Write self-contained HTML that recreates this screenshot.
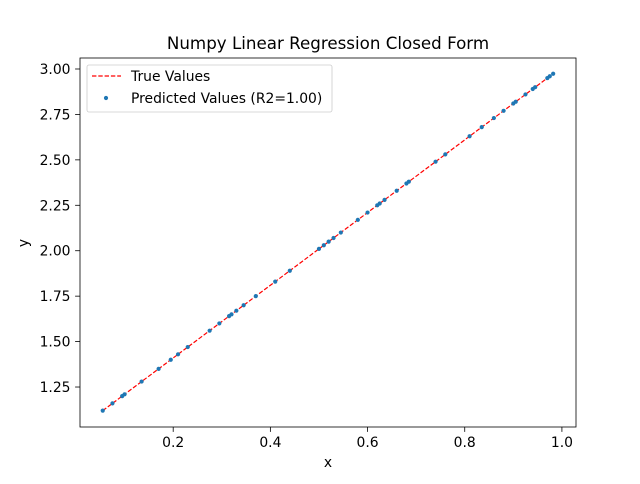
<!DOCTYPE html>
<html><head><meta charset="utf-8"><style>
body{margin:0;background:#fff;font-family:"DejaVu Sans","Liberation Sans",sans-serif;}
svg text{font-family:"DejaVu Sans","Liberation Sans",sans-serif;}
</style></head><body>
<svg id="chart" width="640" height="480">
<rect width="640" height="480" fill="#fff"/>
<g id="plot"></g>
</svg>
<script>
const xValues=[0.055,0.075,0.095,0.10,0.135,0.17,0.195,0.21,0.23,0.275,0.295,0.315,0.32,0.33,0.345,0.37,0.41,0.44,0.50,0.51,0.52,0.53,0.545,0.58,0.60,0.62,0.625,0.635,0.66,0.68,0.685,0.74,0.76,0.81,0.835,0.86,0.88,0.90,0.905,0.925,0.94,0.945,0.97,0.975,0.982];
const yValues=[1.12,1.16,1.20,1.21,1.28,1.35,1.40,1.43,1.47,1.56,1.60,1.64,1.65,1.67,1.70,1.75,1.83,1.89,2.01,2.03,2.05,2.07,2.10,2.17,2.21,2.25,2.26,2.28,2.33,2.37,2.38,2.49,2.53,2.63,2.68,2.73,2.77,2.81,2.82,2.86,2.89,2.90,2.95,2.96,2.974];
const xTicks=[0.2,0.4,0.6,0.8,1.0];
const xTickLabels=["0.2","0.4","0.6","0.8","1.0"];
const yTicks=[1.25,1.5,1.75,2.0,2.25,2.5,2.75,3.0];
const yTickLabels=["1.25","1.50","1.75","2.00","2.25","2.50","2.75","3.00"];

const L=80,R=576,T=58,B=427;
const xmin=0.0082,xmax=1.029,ymin=1.03,ymax=3.0605;
const sx=v=>L+(v-xmin)/(xmax-xmin)*(R-L);
const sy=v=>B-(v-ymin)/(ymax-ymin)*(B-T);
const NS="http://www.w3.org/2000/svg";
const g=document.getElementById('plot');
function mk(tag,at,txt){const e=document.createElementNS(NS,tag);for(const k in at)e.setAttribute(k,at[k]);if(txt!=null)e.textContent=txt;g.appendChild(e);return e;}

const idx=xValues.map((_,i)=>i).sort((a,b)=>xValues[a]-xValues[b]);
let line=mk('polyline',{points:idx.map(i=>sx(xValues[i])+','+sy(yValues[i])).join(' '),fill:'none',stroke:'#ff0000','stroke-width':1.2,'stroke-dasharray':'4.4,1.9'});


xValues.forEach((x,i)=>{
  const c=mk('circle',{cx:sx(x),cy:sy(yValues[i]),r:2.1,fill:'#1f77b4'});
  
  
});
let fr=mk('rect',{x:L,y:T,width:R-L,height:B-T,fill:'none',stroke:'#000','stroke-width':0.8});


xTicks.forEach((v,i)=>{
  const x=sx(v);
  mk('line',{x1:x,x2:x,y1:B,y2:B+4.9,stroke:'#000','stroke-width':0.8});
  const t=mk('text',{x:x,y:B+20,'text-anchor':'middle','font-size':13.9},xTickLabels[i]);
  
  
});
yTicks.forEach((v,i)=>{
  const y=sy(v);
  mk('line',{x1:L-4.9,x2:L,y1:y,y2:y,stroke:'#000','stroke-width':0.8});
  const t=mk('text',{x:L-9.5,y:y+5,'text-anchor':'end','font-size':13.9},yTickLabels[i]);
  
  
});
</script>
<svg style="position:absolute;left:0;top:0" width="640" height="480">
<text x="328" y="49" text-anchor="middle" font-size="16.7">Numpy Linear Regression Closed Form</text>
<text x="328" y="467" text-anchor="middle" font-size="13.9">x</text>
<text x="28" y="243" text-anchor="middle" font-size="13.9" transform="rotate(-90 28 243)">y</text>
<g>
<rect x="87" y="65" width="245" height="47" rx="2" fill="#fff" fill-opacity="0.8" stroke="#ccc" stroke-width="0.8"/>
<line x1="92" x2="121" y1="76" y2="76" stroke="#ff0000" stroke-width="1.2" stroke-dasharray="4.4,1.9"/>
<text x="131" y="81" font-size="13.9">True Values</text>
<circle cx="106" cy="98" r="2.1" fill="#1f77b4"/>
<text x="131" y="103" font-size="13.9">Predicted Values (R2=1.00)</text>
</g>
</svg>
</body></html>
